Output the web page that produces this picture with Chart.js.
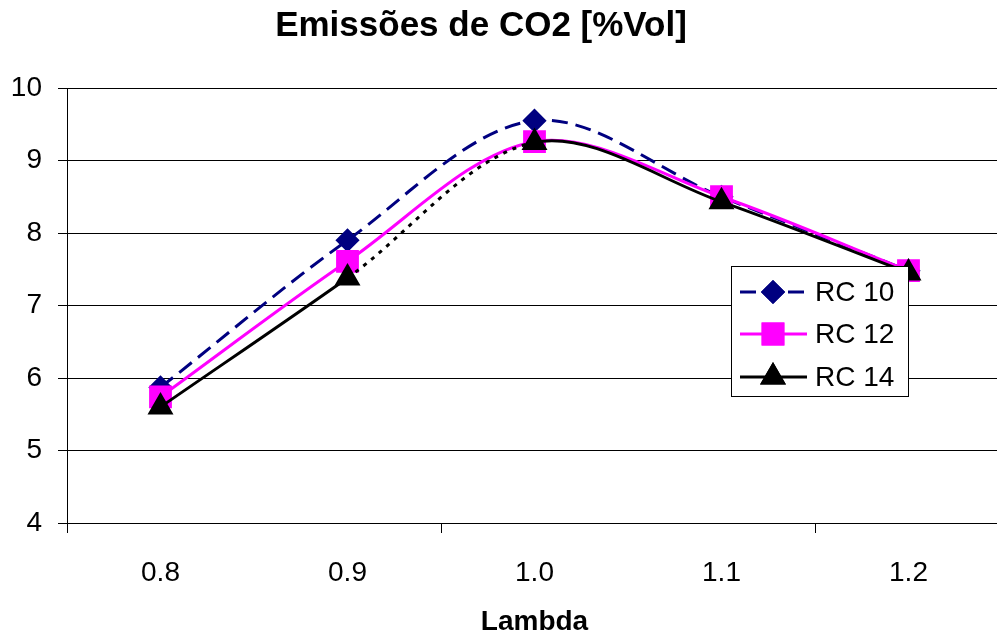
<!DOCTYPE html>
<html lang="pt">
<head>
    <meta charset="UTF-8">
    <title>Emissões de CO2 [%Vol]</title>
    <script src="https://cdn.jsdelivr.net/npm/chart.js@4.4.1/dist/chart.umd.min.js"></script>
    <style>
        html, body { margin: 0; padding: 0; background: #fff; overflow: hidden; }
        #wrap { position: relative; width: 1019px; height: 639px; }
    </style>
</head>
<body>
    <div id="wrap"><canvas id="co2Chart" width="1019" height="639"></canvas></div>

    <script>
        // dados
        const lambdas = ['0.8', '0.9', '1.0', '1.1', '1.2'];
        const rc10 = [5.87, 7.90, 9.55, 8.50, 7.48];
        const rc12 = [5.74, 7.61, 9.26, 8.50, 7.48];
        const rc14 = [5.60, 7.38, 9.25, 8.43, 7.45];
        const seriesNames = ['RC 10', 'RC 12', 'RC 14'];
        const yTicks = [4, 5, 6, 7, 8, 9, 10];

        const FONT = 'Arial, "Liberation Sans", sans-serif';

        // título principal e legenda desenhados à mão (posição como no original)
        const extras = {
            id: 'extras',
            afterDraw(chart) {
                const c = chart.ctx;
                c.save();
                c.fillStyle = '#000';
                c.font = 'bold 35px ' + FONT;
                c.textAlign = 'center';
                c.textBaseline = 'middle';
                c.fillText('Emissões de CO2 [%Vol]', 481, 26);

                // caixa da legenda
                const bx = 731, by = 266, bw = 177, bh = 130;
                c.fillStyle = '#fff';
                c.fillRect(bx, by, bw, bh);
                c.strokeStyle = '#000';
                c.lineWidth = 1;
                c.strokeRect(bx + 0.5, by + 0.5, bw, bh);

                const rows = [292, 334, 377];
                chart.data.datasets.forEach((ds, i) => {
                    const y = rows[i];
                    c.strokeStyle = ds.borderColor;
                    c.lineWidth = ds.borderWidth;
                    c.setLineDash(ds.borderDash || []);
                    c.beginPath();
                    c.moveTo(740, y);
                    c.lineTo(807, y);
                    c.stroke();
                    c.setLineDash([]);
                    Chart.helpers.drawPoint(c, {
                        pointStyle: ds.pointStyle,
                        radius: ds.pointRadius,
                        borderWidth: 1,
                        rotation: 0
                    }, 773, y);
                    c.fillStyle = ds.pointBackgroundColor;
                    c.strokeStyle = ds.pointBorderColor;
                    c.fill();
                    c.stroke();
                    c.fillStyle = '#000';
                    c.font = '28px ' + FONT;
                    c.textAlign = 'left';
                    c.fillText(seriesNames[i], 815, y + 1);
                });
                c.restore();
            }
        };

        const ctx = document.getElementById('co2Chart').getContext('2d');
        new Chart(ctx, {
            type: 'line',
            data: {
                labels: lambdas,
                datasets: [
                    {
                        label: seriesNames[0],
                        data: rc10,
                        borderColor: '#000080',
                        borderWidth: 3,
                        borderDash: [16, 8],
                        pointStyle: 'rectRot',
                        pointRadius: 10,
                        pointBackgroundColor: '#000080',
                        pointBorderColor: '#000080',
                        order: 3
                    },
                    {
                        label: seriesNames[1],
                        data: rc12,
                        borderColor: '#FF00FF',
                        borderWidth: 3,
                        pointStyle: 'rect',
                        pointRadius: 14,
                        pointBackgroundColor: '#FF00FF',
                        pointBorderColor: '#FF00FF',
                        order: 2
                    },
                    {
                        label: seriesNames[2],
                        data: rc14,
                        borderColor: '#000000',
                        borderWidth: 3,
                        pointStyle: 'triangle',
                        pointRadius: 12,
                        pointBackgroundColor: '#000000',
                        pointBorderColor: '#000000',
                        segment: {
                            borderDash: s => s.p0DataIndex === 1 ? [4, 6] : undefined
                        },
                        order: 1
                    }
                ]
            },
            options: {
                responsive: false,
                animation: false,
                layout: { padding: { top: 88, right: 0, bottom: 0, left: 0 } },
                elements: {
                    line: { tension: 0.33, fill: false },
                    point: { borderWidth: 1, hoverRadius: 10 }
                },
                plugins: {
                    legend: { display: false },
                    title: { display: false },
                    tooltip: { enabled: false }
                },
                scales: {
                    x: {
                        offset: true,
                        grid: {
                            offset: true,
                            drawOnChartArea: false,
                            drawTicks: true,
                            tickLength: 10,
                            color: g => g.index % 2 === 0 ? '#000' : 'rgba(0,0,0,0)'
                        },
                        border: { display: true, color: '#000', width: 1 },
                        ticks: {
                            color: '#000',
                            font: { family: FONT, size: 28 },
                            padding: 23,
                            maxRotation: 0
                        },
                        title: {
                            display: true,
                            text: 'Lambda',
                            color: '#000',
                            font: { family: FONT, size: 28, weight: 'bold' },
                            padding: { top: 0, bottom: 0 }
                        },
                        afterFit: s => { s.height = 116; }
                    },
                    y: {
                        min: 4,
                        max: 10,
                        afterBuildTicks: s => { s.ticks = yTicks.map(v => ({ value: v })); },
                        grid: {
                            color: '#000',
                            lineWidth: 1,
                            tickLength: 9
                        },
                        border: { display: true, color: '#000', width: 1 },
                        ticks: {
                            color: '#000',
                            font: { family: FONT, size: 28 },
                            padding: 16
                        },
                        afterFit: s => { s.width = 67; }
                    }
                }
            },
            plugins: [extras]
        });
    </script>
</body>
</html>
